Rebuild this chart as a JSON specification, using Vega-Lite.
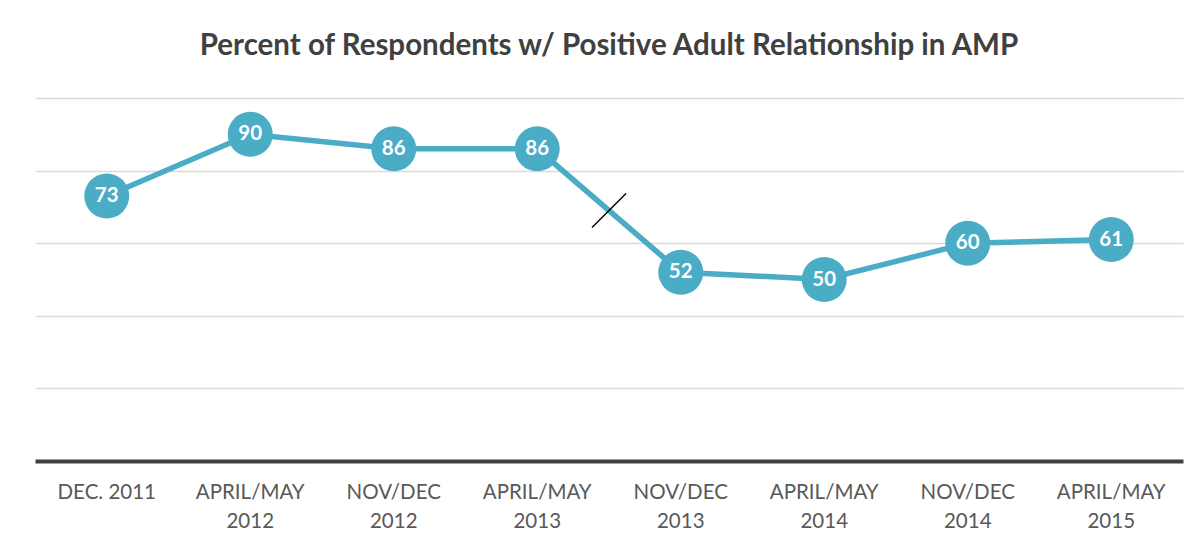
{
  "$schema": "https://vega.github.io/schema/vega-lite/v6.json",
  "width": 1148,
  "height": 363,
  "autosize": {"type": "none"},
  "padding": {"left": 35, "top": 98, "right": 20, "bottom": 87},
  "background": "white",
  "title": {
    "text": "Percent of Respondents w/ Positive Adult Relationship in AMP",
    "font": "Lato",
    "fontSize": 29.5,
    "fontWeight": "bold",
    "color": "#404040",
    "anchor": "middle",
    "offset": 37
  },
  "datasets": {
    "survey": [
      {"period": "DEC. 2011", "value": 73},
      {"period": "APRIL/MAY|2012", "value": 90},
      {"period": "NOV/DEC|2012", "value": 86},
      {"period": "APRIL/MAY|2013", "value": 86},
      {"period": "NOV/DEC|2013", "value": 52},
      {"period": "APRIL/MAY|2014", "value": 50},
      {"period": "NOV/DEC|2014", "value": 60},
      {"period": "APRIL/MAY|2015", "value": 61}
    ],
    "breaks": [
      {"period": "APRIL/MAY|2013", "value": 69}
    ]
  },
  "data": {"name": "survey"},
  "encoding": {
    "x": {
      "field": "period",
      "type": "ordinal",
      "sort": null,
      "scale": {"type": "band", "paddingInner": 0, "paddingOuter": 0},
      "axis": {
        "title": null,
        "labelAngle": 0,
        "labelExpr": "split(datum.label, '|')",
        "labelFont": "Lato",
        "labelFontSize": 20.5,
        "labelColor": "#595959",
        "labelLineHeight": 29,
        "labelPadding": 21,
        "labelBaseline": "top",
        "ticks": false,
        "domainColor": "#404040",
        "domainWidth": 4,
        "grid": false
      }
    },
    "y": {
      "field": "value",
      "type": "quantitative",
      "scale": {"domain": [0, 100], "nice": false, "zero": true},
      "axis": {
        "title": null,
        "labels": false,
        "ticks": false,
        "domain": false,
        "grid": true,
        "values": [20, 40, 60, 80, 100],
        "gridColor": "#D9D9D9",
        "gridWidth": 1.3
      }
    }
  },
  "layer": [
    {
      "mark": {"type": "line", "color": "#4BACC6", "strokeWidth": 5.5}
    },
    {
      "mark": {"type": "point", "shape": "circle", "filled": true, "size": 2025, "color": "#4BACC6", "opacity": 1}
    },
    {
      "mark": {"type": "text", "color": "white", "font": "Lato", "fontSize": 20.5, "fontWeight": "bold", "align": "center", "baseline": "middle"},
      "encoding": {"text": {"field": "value", "type": "quantitative"}}
    },
    {
      "data": {"name": "breaks"},
      "mark": {"type": "point", "shape": "M-1,1L1,-1", "size": 1156, "filled": false, "stroke": "#000000", "strokeWidth": 1.5, "opacity": 1},
      "encoding": {
        "x": {"field": "period", "type": "ordinal", "sort": null, "bandPosition": 1},
        "y": {"field": "value", "type": "quantitative"}
      }
    }
  ],
  "config": {
    "view": {"stroke": null}
  }
}
